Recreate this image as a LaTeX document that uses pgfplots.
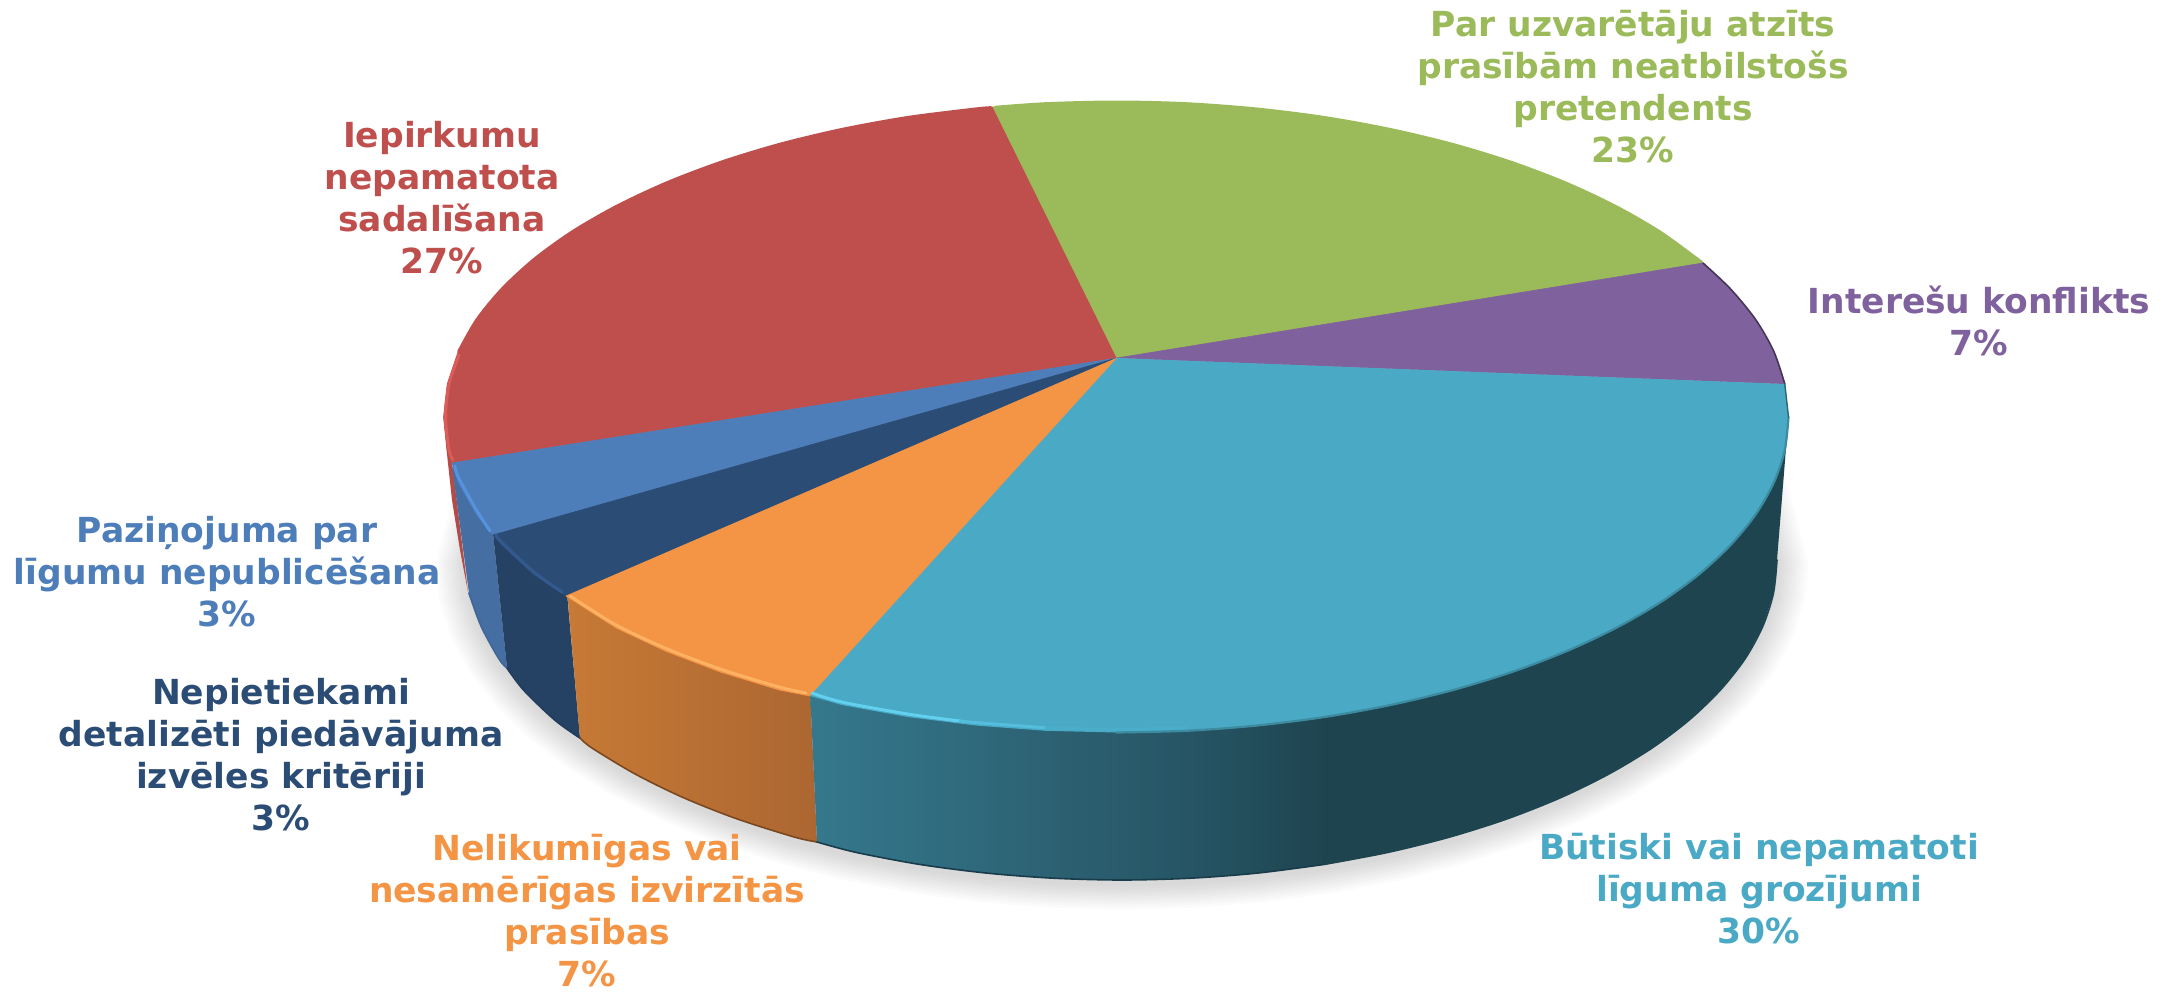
\documentclass[border=0pt]{standalone}
\usepackage{pgfplots}
\usepackage{pgfplotstable}
\usepackage{fontspec}
\pgfplotsset{compat=1.18}
\setmainfont{DejaVu Sans}
\definecolor{cred}{HTML}{BE4F4D}
\definecolor{cgreen}{HTML}{9BBA59}
\definecolor{cpurple}{HTML}{7F619D}
\definecolor{cteal}{HTML}{4AA9C4}
\definecolor{corange}{HTML}{F49445}
\definecolor{cnavy}{HTML}{2B4C75}
\definecolor{cblue}{HTML}{4E7EB9}
\definecolor{cdark}{HTML}{1E444F}
\pgfplotstableread{
x y
1777 560
1773.4 593.4
1762.7 626.5
1745 658.9
1720.3 690.1
1689.2 720
1651.9 748.1
1608.7 774.1
1560.3 797.8
1507 818.9
1449.5 837.1
1388.4 852.3
1324.4 864.4
1258.2 873
1190.4 878.2
1122 880
1053.6 878.2
985.8 873
919.6 864.4
855.6 852.3
794.5 837.1
737 818.9
683.7 797.8
635.3 774.1
592.1 748.1
554.8 720
523.7 690.1
499 658.9
481.3 626.5
470.6 593.4
467 560
489.3 477
555 400
794.5 283
1122 240
1449.5 283
1689 400
1754.7 477
}\shadowtab
\newcommand\shadowlayer[2]{\addplot[draw=none,fill=black,fill opacity=0.014] table[x expr=1122+(\thisrow{x}-1122)*#1, y expr=564+(\thisrow{y}-560)*#2] {\shadowtab} --cycle;}
\tikzset{lab/.style={align=center,inner sep=0pt,font=\fontsize{34.5}{42}\selectfont\bfseries}}
\begin{document}
\begin{tikzpicture}
\useasboundingbox (0,0) rectangle (2172pt,991pt);
\begin{axis}[
  width=2172pt,height=991pt,scale only axis,hide axis,
  xmin=0,xmax=2172,ymin=0,ymax=991,y dir=reverse,
  enlargelimits=false,clip=false,
  every axis plot/.append style={line join=round,line cap=round}]
% soft shadow
\shadowlayer{1.003}{1.008}
\shadowlayer{1.008}{1.016}
\shadowlayer{1.013}{1.024}
\shadowlayer{1.018}{1.032}
\shadowlayer{1.023}{1.040}
\shadowlayer{1.028}{1.048}
\shadowlayer{1.033}{1.056}
\shadowlayer{1.038}{1.064}
\shadowlayer{1.043}{1.072}
\shadowlayer{1.048}{1.080}
% side faces
\addplot[draw=none,fill=black!5!cred] coordinates {(443.5,417)(446,445)(452,500)(460,550)(468,592)(453,470)} --cycle;
\addplot[draw=none,fill=cblue!88!black] coordinates {(452,466)(493,533)(507,668)(499,658.9)(481.3,626.5)(469,593)} --cycle;
\addplot[draw=none,fill=cnavy!85!black] coordinates {(493,533)(567,593)(580,738)(554.8,720)(523.7,690.1)(507,668)} --cycle;
\addplot[draw=none,left color={rgb,255:red,199;green,122;blue,54},right color={rgb,255:red,172;green,102;blue,49}] coordinates {(567,590)(810,690)(817,842)(794.5,837.1)(737,818.9)(683.7,797.8)(635.3,774.1)(592.1,748.1)(580,738)} --cycle;
\addplot[draw=none,left color={rgb,255:red,53;green,120;blue,140},right color={rgb,255:red,49;green,110;blue,130}] coordinates {(810,690)(921,690)(921,864.7)(855.6,852.3)(817,842)} --cycle;
\addplot[draw=none,left color={rgb,255:red,49;green,110;blue,130},right color={rgb,255:red,44;green,97;blue,114}] coordinates {(919.6,690)(1055,690)(1055,878.3)(985.8,873)(919.6,864.4)} --cycle;
\addplot[draw=none,left color={rgb,255:red,44;green,97;blue,114},right color={rgb,255:red,38;green,85;blue,101}] coordinates {(1053.6,700)(1192,700)(1192,878.1)(1122,880)(1053.6,878.2)} --cycle;
\addplot[draw=none,left color={rgb,255:red,38;green,85;blue,101},right color={rgb,255:red,30;green,68;blue,79}] coordinates {(1190.4,700)(1326,700)(1326,864)(1258.2,873)(1190.4,878.2)} --cycle;
\addplot[draw=none,fill=cdark] coordinates {(1324.4,500)(1784.8,384)(1788.5,417)(1777,560)(1773.4,593.4)(1762.7,626.5)(1745,658.9)(1720.3,690.1)(1689.2,720)(1651.9,748.1)(1608.7,774.1)(1560.3,797.8)(1507,818.9)(1449.5,837.1)(1388.4,852.3)(1324.4,864.4)} --cycle;
% rims along the bottom edge (smooth)
\addplot[smooth,color=cblue!82!black,line width=1.8pt] coordinates {(469,593)(481.3,626.5)(499,658.9)(507,668)};
\addplot[smooth,color=cnavy!80!black,line width=1.8pt] coordinates {(507,668)(523.7,690.1)(554.8,720)(580,738)};
\addplot[smooth,color={rgb,255:red,122;green,72;blue,32},line width=1.6pt] coordinates {(580,738)(592.1,748.1)(635.3,774.1)(683.7,797.8)(737,818.9)(794.5,837.1)(817,842)};
\addplot[smooth,color={rgb,255:red,24;green,60;blue,74},line width=1.6pt] coordinates {(817,842)(855.6,852.3)(919.6,864.4)(985.8,873)(1053.6,878.2)(1122,880)(1190.4,878.2)(1258.2,873)(1324.4,864.4)};
\addplot[smooth,color=cdark,line width=1.6pt] coordinates {(1324.4,864.4)(1388.4,852.3)(1449.5,837.1)(1507,818.9)(1560.3,797.8)(1608.7,774.1)(1651.9,748.1)(1689.2,720)(1720.3,690.1)(1745,658.9)(1762.7,626.5)(1773.4,593.4)(1777,560)};
% top faces
\addplot[draw=cred,line width=.6pt,fill=cred] coordinates {(1117,358)(452,463)(447.2,450)(443.5,417)(447.2,384)(458.2,351.4)(476.4,319.5)(501.7,288.7)(533.6,259.2)(571.9,231.5)(616.3,205.9)(666,182.6)(720.7,161.8)(779.7,143.8)(842.5,128.8)(908.2,116.9)(976.2,108.4)(993,107)} --cycle;
\addplot[draw=cgreen,line width=.6pt,fill=cgreen] coordinates {(1117,358)(993,107)(1045.7,103.2)(1116,101.5)(1186.3,103.2)(1255.8,108.4)(1323.8,116.9)(1389.5,128.8)(1452.3,143.8)(1511.3,161.8)(1566,182.6)(1615.7,205.9)(1660.1,231.5)(1698.4,259.2)(1703,263)} --cycle;
\addplot[draw=cpurple,line width=.6pt,fill=cpurple] coordinates {(1117,358)(1703,263)(1730.3,288.7)(1755.6,319.5)(1773.8,351.4)(1784.8,384)} --cycle;
\addplot[draw=cblue,line width=.6pt,fill=cblue] coordinates {(1117,358)(493,535)(476.4,514.5)(458.2,482.6)(452,463)} --cycle;
\addplot[draw=cnavy,line width=.6pt,fill=cnavy] coordinates {(1117,358)(566,596)(533.6,574.8)(501.7,545.3)(493,535)} --cycle;
\addplot[draw=corange,line width=.6pt,fill=corange] coordinates {(1117,358)(810,696)(779.7,690.2)(720.7,672.2)(666,651.4)(616.3,628.1)(566,596)} --cycle;
\addplot[draw=none,fill=cteal] coordinates {(1117,358)(1784.8,384)(1788.5,417)(1784.8,450)(1773.8,482.6)(1755.6,514.5)(1730.3,545.3)(1698.4,574.8)(1660.1,602.5)(1615.7,628.1)(1566,651.4)(1511.3,672.2)(1452.3,690.2)(1389.5,705.2)(1323.8,717.1)(1255.8,725.6)(1186.3,730.8)(1116,732.5)(1045.7,730.8)(976.2,725.6)(908.2,717.1)(842.5,705.2)(810,696)} --cycle;
% smooth outer arcs of the top faces
\addplot[smooth,color=cred,line width=2pt] coordinates {(458.2,351.4)(476.4,319.5)(501.7,288.7)(533.6,259.2)(571.9,231.5)(616.3,205.9)(666,182.6)(720.7,161.8)(779.7,143.8)(842.5,128.8)(908.2,116.9)(976.2,108.4)(991,107.2)};
\addplot[smooth,color=cgreen,line width=2pt] coordinates {(995,106.8)(1045.7,103.2)(1116,101.5)(1186.3,103.2)(1255.8,108.4)(1323.8,116.9)(1389.5,128.8)(1452.3,143.8)(1511.3,161.8)(1566,182.6)(1615.7,205.9)(1660.1,231.5)(1698.4,259.2)(1701,261)};
\addplot[smooth,color=cteal!82!black,line width=2.2pt] coordinates {(1788.5,417)(1784.8,450)(1773.8,482.6)(1755.6,514.5)(1730.3,545.3)(1698.4,574.8)(1660.1,602.5)(1615.7,628.1)(1566,651.4)(1511.3,672.2)(1452.3,690.2)(1389.5,705.2)(1323.8,717.1)(1255.8,725.6)(1186.3,730.8)(1116,732.5)};
\addplot[smooth,color=cpurple!55!black,line width=1.6pt] coordinates {(1703,263)(1730.3,288.7)(1755.6,319.5)(1773.8,351.4)(1784.8,384)};
\addplot[color=cteal!60!black,line width=1.4pt] coordinates {(1784.8,384)(1788.5,417)};
% bevel highlights
\addplot[smooth,color={rgb,255:red,255;green,178;blue,100},line width=3pt] coordinates {(570,596)(616.3,625.1)(666,648.4)(720.7,669.2)(779.7,687.2)(806,693)};
\addplot[smooth,color={rgb,255:red,98;green,208;blue,238},line width=3pt] coordinates {(812,693)(842.5,702.2)(908.2,714.1)(960,721)};
\addplot[smooth,color={rgb,255:red,84;green,190;blue,220},line width=3pt] coordinates {(960,721)(976.2,722.6)(1045.7,727.8)};
\addplot[smooth,color={rgb,255:red,74;green,174;blue,202},line width=3pt] coordinates {(1045.7,727.8)(1116,729.5)(1186.3,727.8)};
\addplot[smooth,color={rgb,255:red,51;green,89;blue,143},line width=3pt] coordinates {(496,535)(501.7,542.3)(533.6,571.8)(562,592)};
\addplot[smooth,color={rgb,255:red,87;green,146;blue,222},line width=3pt] coordinates {(455,466)(458.2,477)(476.4,510)(490,531)};
\addplot[smooth,color={rgb,255:red,222;green,92;blue,88},line width=3pt] coordinates {(459,355)(449,384)(445.5,417)(449,450)(453,460)};
% labels
\node[lab,text=cgreen] at (axis cs:1633,87) {Par uzvarētāju atzīts\\prasībām neatbilstošs\\pretendents\\23\%};
\node[lab,text=cpurple] at (axis cs:1979,321) {Interešu konflikts\\7\%};
\node[lab,text=cteal] at (axis cs:1759,889) {Būtiski vai nepamatoti\\līguma grozījumi\\30\%};
\node[lab,text=corange] at (axis cs:587,911) {Nelikumīgas vai\\nesamērīgas izvirzītās\\prasības\\7\%};
\node[lab,text=cnavy] at (axis cs:281,755) {Nepietiekami\\detalizēti piedāvājuma\\izvēles kritēriji\\3\%};
\node[lab,text=cblue] at (axis cs:227,572) {Paziņojuma par\\līgumu nepublicēšana\\3\%};
\node[lab,text=cred] at (axis cs:442,198) {Iepirkumu\\nepamatota\\sadalīšana\\27\%};
\end{axis}
\end{tikzpicture}
\end{document}
